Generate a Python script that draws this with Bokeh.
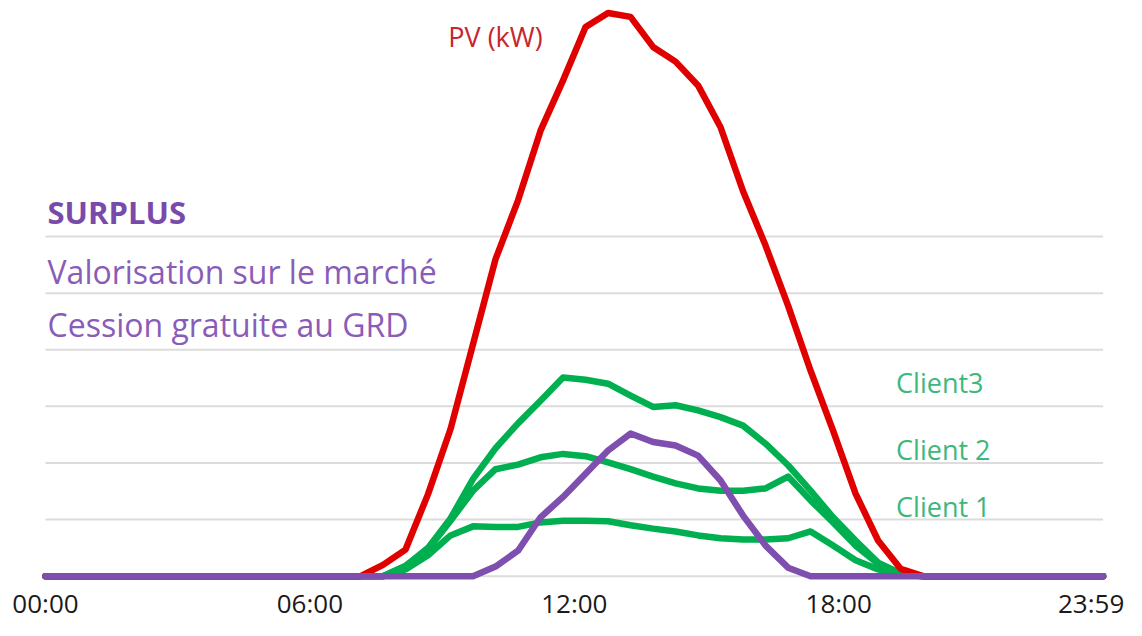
from bokeh.plotting import figure
from bokeh.models import Range1d
from bokeh.core.properties import value
from bokeh.embed import file_html
from bokeh.resources import INLINE

# Half-hourly profile, index 0 = 00:00 ... 47 = 23:30 (last tick labelled 23:59)
pv = [0]*15 + [0.2, 0.47, 1.45, 2.6, 4.1, 5.6, 6.64, 7.87, 8.76, 9.7, 9.95, 9.88, 9.35,
               9.09, 8.67, 7.93, 6.8, 5.84, 4.78, 3.63, 2.57, 1.46, 0.63, 0.13] + [0]*9
client3 = [0]*16 + [0.18, 0.5, 1.02, 1.72, 2.26, 2.7, 3.1, 3.51, 3.47, 3.4, 3.19, 2.99,
                    3.02, 2.93, 2.81, 2.66, 2.34, 1.96, 1.51, 1.04, 0.63, 0.24, 0.05] + [0]*9
client2 = [0]*16 + [0.18, 0.47, 0.98, 1.51, 1.89, 1.97, 2.1, 2.16, 2.12, 2.01, 1.89, 1.76,
                    1.64, 1.55, 1.51, 1.51, 1.55, 1.76, 1.34, 0.95, 0.54, 0.22, 0.05] + [0]*9
client1 = [0]*16 + [0.12, 0.37, 0.72, 0.88, 0.87, 0.87, 0.95, 0.98, 0.98, 0.97, 0.9, 0.84,
                    0.79, 0.72, 0.67, 0.65, 0.65, 0.67, 0.79, 0.54, 0.28, 0.12, 0.03] + [0]*9
surplus = [0]*20 + [0.17, 0.45, 1.04, 1.4, 1.81, 2.22, 2.52, 2.37, 2.31, 2.13, 1.69, 1.07,
                    0.54, 0.15] + [0]*14

tick_labels = ["00:00", "06:00", "12:00", "18:00", "23:59"]
grid_levels = [0, 1, 2, 3, 4, 5, 6]

n = len(pv)
idx = list(range(n))

p = figure(width=1126, height=620, output_backend="svg", toolbar_location=None,
           x_range=Range1d(-2.0, 48.04), y_range=Range1d(-0.783, 10.17),
           x_axis_location=None, y_axis_location=None,
           min_border_left=0, min_border_right=0, min_border_top=0, min_border_bottom=0)
p.xgrid.visible = False
p.ygrid.visible = False
p.outline_line_color = None
p.background_fill_color = "white"
p.border_fill_color = "white"

# horizontal guide lines over the data extent
p.segment(x0=[0]*len(grid_levels), x1=[n - 1]*len(grid_levels),
          y0=grid_levels, y1=grid_levels, line_color="#dcdcdc", line_width=2)

green = "#00b050"
lw = 6.5
for series in (client1, client2, client3):
    p.line(idx, series, line_color=green, line_width=lw, line_join="round", line_cap="round")
p.line(idx, pv, line_color="#e00000", line_width=lw, line_join="round", line_cap="round")
p.line(idx, surplus, line_color="#7e4fae", line_width=lw, line_join="round", line_cap="round")

font = value("Open Sans")
p.text(x=[17.9], y=[9.528], text=["PV (kW)"], text_font=font, text_font_size="27px",
       text_color="#c8262c", text_baseline="alphabetic", text_align="left")
p.text(x=[0.09], y=[6.435], text=["SURPLUS"], text_font=font, text_font_size="31px",
       text_font_style="bold", text_color="#7a4aab", text_baseline="alphabetic", text_align="left")
p.text(x=[0.09, 0.09], y=[5.382, 4.451],
       text=["Valorisation sur le marché", "Cession gratuite au GRD"],
       text_font=font, text_font_size="32px", text_color="#8a5cb8",
       text_baseline="alphabetic", text_align="left")
p.text(x=[37.8, 37.8, 37.8], y=[3.422, 2.244, 1.224], text=["Client3", "Client 2", "Client 1"],
       text_font=font, text_font_size="27px", text_color="#3db87c",
       text_baseline="alphabetic", text_align="left")

# category-style time labels, evenly spread over the series extent
ticks = [i * (n - 1) / 4 for i in range(5)]
p.text(x=ticks, y=[-0.466]*len(ticks), text=tick_labels, text_font=font,
       text_font_size="26px", text_color="#1a1a1a",
       x_offset=[0, 0, 0, 0, -12],
       text_baseline="alphabetic", text_align="center")

open("out.html", "w").write(file_html(p, INLINE))
